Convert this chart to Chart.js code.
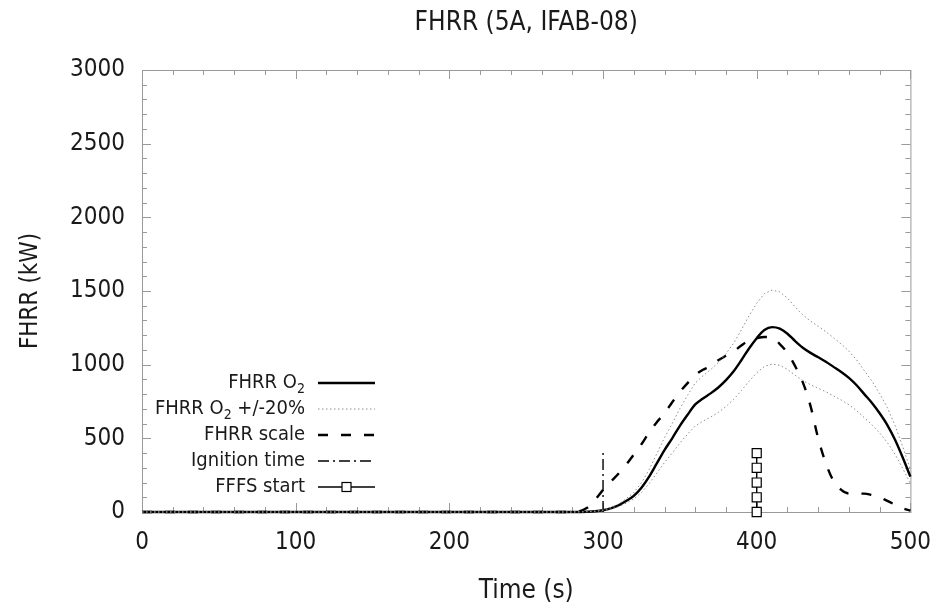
<!DOCTYPE html>
<html>
<head>
<meta charset="utf-8">
<title>FHRR (5A, IFAB-08)</title>
<script src="https://cdn.jsdelivr.net/npm/chart.js@4.4.1/dist/chart.umd.min.js"></script>
<style>
  html, body { margin: 0; padding: 0; background: #fff; }
  canvas { display: block; }
</style>
</head>
<body>
<canvas id="chart-fhrr" width="947" height="611"></canvas>
<script>
// Time axis (s), shared by the measured curves
const timeS = [0, 280, 290, 295,
  300, 305, 310, 315, 320, 325, 330, 335, 340, 345,
  350, 355, 360, 365, 370, 375, 380, 385, 390, 395,
  400, 405, 410, 415, 420, 425, 430, 435, 440, 445,
  450, 455, 460, 465, 470, 475, 480, 485, 490, 495, 500];

// FHRR from O2 calorimetry (kW)
const fhrrO2 = [0, 0, 2, 5,
  12, 25, 45, 75, 110, 165, 240, 330, 420, 500,
  585, 660, 730, 770, 805, 845, 895, 955, 1030, 1110,
  1180, 1235, 1255, 1245, 1210, 1160, 1115, 1080, 1050, 1020,
  985, 950, 910, 860, 800, 740, 670, 590, 490, 370, 240];

// +20% / -20% band (kW)
const fhrrO2Upper = [0, 0, 2, 6,
  14, 30, 54, 90, 132, 198, 288, 396, 504, 600,
  702, 792, 876, 924, 966, 1014, 1074, 1146, 1236, 1332,
  1416, 1482, 1506, 1494, 1452, 1392, 1338, 1296, 1260, 1224,
  1182, 1140, 1092, 1032, 960, 888, 804, 708, 588, 444, 288];
const fhrrO2Lower = [0, 0, 2, 4,
  10, 20, 36, 60, 88, 132, 192, 264, 336, 400,
  468, 528, 584, 616, 644, 676, 716, 764, 824, 888,
  944, 988, 1004, 996, 968, 928, 892, 864, 840, 816,
  788, 760, 728, 688, 640, 592, 536, 472, 392, 296, 192];

// FHRR from scale (kW)
const fhrrScale = [0, 0, 30, 85,
  150, 205, 260, 320, 390, 460, 540, 610, 670, 745,
  815, 875, 930, 965, 990, 1030, 1060, 1090, 1130, 1165,
  1180, 1188, 1185, 1140, 1080, 990, 880, 720, 500, 330,
  210, 150, 125, 125, 125, 115, 100, 75, 50, 25, 10];

// Event markers
const ignitionTime = 300;
const ignitionMarkY = [0, 400];
const fffsTime = 400;
const fffsMarkY = [0, 100, 200, 300, 400];

const legendLabels = [
  ['FHRR O', '2', ''],
  ['FHRR O', '2', ' +/-20%'],
  ['FHRR scale', '', ''],
  ['Ignition time', '', ''],
  ['FFFS start', '', '']
];

const FONT = "'DejaVu Sans Condensed', 'Liberation Sans Narrow', 'DejaVu Sans', sans-serif";
const TEXT = '#1a1a1a';
const FRAME = '#9a9a9a';

const pts = (xs, ys) => ys.map((v, i) => ({ x: xs[i], y: v }));
const vline = (t, ys) => ys.map(v => ({ x: t, y: v }));

const styles = [
  { borderColor: '#000', borderWidth: 2.4, borderDash: [] },
  { borderColor: '#8c8c8c', borderWidth: 1, borderDash: [1.5, 2.5] },
  { borderColor: '#000', borderWidth: 2.4, borderDash: [10, 13] },
  { borderColor: '#000', borderWidth: 1.4, borderDash: [11, 4, 2, 4] },
  { borderColor: '#000', borderWidth: 1.4, borderDash: [] }
];

// Box with inward ticks on all four sides (gnuplot look)
const framePlugin = {
  id: 'frame',
  beforeDatasetsDraw(chart) {
    const { ctx, chartArea: a, scales: { x, y } } = chart;
    ctx.save();
    ctx.strokeStyle = FRAME;
    ctx.lineWidth = 1;
    ctx.strokeRect(a.left + 0.5, a.top + 0.5, a.right - a.left, a.bottom - a.top);
    ctx.beginPath();
    for (let v = 0; v <= 500; v += 20) {
      const px = Math.round(x.getPixelForValue(v)) + 0.5;
      const len = v % 100 === 0 ? 9 : 5;
      ctx.moveTo(px, a.bottom); ctx.lineTo(px, a.bottom - len);
      ctx.moveTo(px, a.top); ctx.lineTo(px, a.top + len);
    }
    for (let v = 0; v <= 3000; v += 100) {
      const py = Math.round(y.getPixelForValue(v)) + 0.5;
      const len = v % 500 === 0 ? 9 : 5;
      ctx.moveTo(a.left, py); ctx.lineTo(a.left + len, py);
      ctx.moveTo(a.right, py); ctx.lineTo(a.right - len, py);
    }
    ctx.stroke();
    ctx.restore();
  }
};

// Legend: right-aligned text, sample line to the right
const legendPlugin = {
  id: 'keyBox',
  afterDatasetsDraw(chart) {
    const { ctx } = chart;
    const textRight = 305, x0 = 318, x1 = 375, top = 383, step = 26;
    ctx.save();
    legendLabels.forEach((parts, i) => {
      const yy = top + i * step;
      const [main, sub, tail] = parts;
      ctx.font = '20px ' + FONT;
      const wMain = ctx.measureText(main).width;
      const wTail = ctx.measureText(tail).width;
      ctx.font = '14px ' + FONT;
      const wSub = ctx.measureText(sub).width;
      let cx = textRight - (wMain + wSub + wTail);
      ctx.fillStyle = TEXT;
      ctx.textBaseline = 'middle';
      ctx.textAlign = 'left';
      ctx.font = '20px ' + FONT;
      ctx.fillText(main, cx, yy);
      cx += wMain;
      if (sub) {
        ctx.font = '14px ' + FONT;
        ctx.fillText(sub, cx, yy + 6);
        cx += wSub;
      }
      ctx.font = '20px ' + FONT;
      if (tail) ctx.fillText(tail, cx, yy);

      const s = styles[i];
      ctx.strokeStyle = s.borderColor;
      ctx.lineWidth = s.borderWidth;
      ctx.setLineDash(s.borderDash);
      ctx.beginPath();
      ctx.moveTo(x0, yy);
      ctx.lineTo(x1, yy);
      ctx.stroke();
      ctx.setLineDash([]);
      if (i === 4) {
        const mx = (x0 + x1) / 2;
        ctx.fillStyle = '#fff';
        ctx.fillRect(mx - 4.5, yy - 4.5, 9, 9);
        ctx.lineWidth = 1.2;
        ctx.strokeRect(mx - 4.5, yy - 4.5, 9, 9);
      }
    });
    ctx.restore();
  }
};

new Chart(document.getElementById('chart-fhrr'), {
  type: 'line',
  data: {
    datasets: [
      {
        label: 'FHRR O2 +20%',
        data: pts(timeS, fhrrO2Upper),
        ...styles[1], pointRadius: 0, tension: 0, clip: 4
      },
      {
        label: 'FHRR O2 -20%',
        data: pts(timeS, fhrrO2Lower),
        ...styles[1], pointRadius: 0, tension: 0, clip: 4
      },
      {
        label: 'FHRR scale',
        data: pts(timeS, fhrrScale),
        ...styles[2], pointRadius: 0, cubicInterpolationMode: 'monotone', clip: 4
      },
      {
        label: 'Ignition time',
        data: vline(ignitionTime, ignitionMarkY),
        ...styles[3], pointRadius: 0, clip: 4
      },
      {
        label: 'FFFS start',
        data: vline(fffsTime, fffsMarkY),
        ...styles[4],
        pointStyle: 'rect', pointRadius: 6.4, pointBorderWidth: 1.2,
        pointBackgroundColor: '#fff', pointBorderColor: '#000', clip: 8
      },
      {
        label: 'FHRR O2',
        data: pts(timeS, fhrrO2),
        ...styles[0], pointRadius: 0, cubicInterpolationMode: 'monotone', clip: 4
      }
    ]
  },
  options: {
    responsive: false,
    animation: false,
    devicePixelRatio: 1,
    layout: { padding: { left: 0, right: 35, top: 0, bottom: 0 } },
    plugins: {
      legend: { display: false },
      tooltip: { enabled: false },
      title: {
        display: true,
        fullSize: false,
        text: 'FHRR (5A, IFAB-08)',
        color: TEXT,
        font: { family: FONT, size: 26, weight: 'normal' },
        padding: { top: 8, bottom: 30.8 }
      }
    },
    scales: {
      x: {
        type: 'linear',
        min: 0,
        max: 500,
        ticks: {
          stepSize: 100,
          color: TEXT,
          padding: 16,
          maxRotation: 0,
          font: { family: FONT, size: 24 },
          callback: v => String(v)
        },
        grid: { display: false, drawTicks: false },
        border: { display: false },
        title: {
          display: true,
          text: 'Time (s)',
          color: TEXT,
          font: { family: FONT, size: 26 },
          padding: { top: 0, bottom: 4 }
        },
        afterFit: s => { s.height = 99; }
      },
      y: {
        min: 0,
        max: 3000,
        ticks: {
          stepSize: 500,
          color: TEXT,
          padding: 17,
          font: { family: FONT, size: 24 },
          callback: v => String(v)
        },
        grid: { display: false, drawTicks: false },
        border: { display: false },
        title: {
          display: true,
          text: 'FHRR (kW)',
          color: TEXT,
          font: { family: FONT, size: 24 },
          padding: { top: 16, bottom: 0 }
        },
        afterFit: s => { s.width = 142; }
      }
    }
  },
  plugins: [framePlugin, legendPlugin]
});
</script>
</body>
</html>
